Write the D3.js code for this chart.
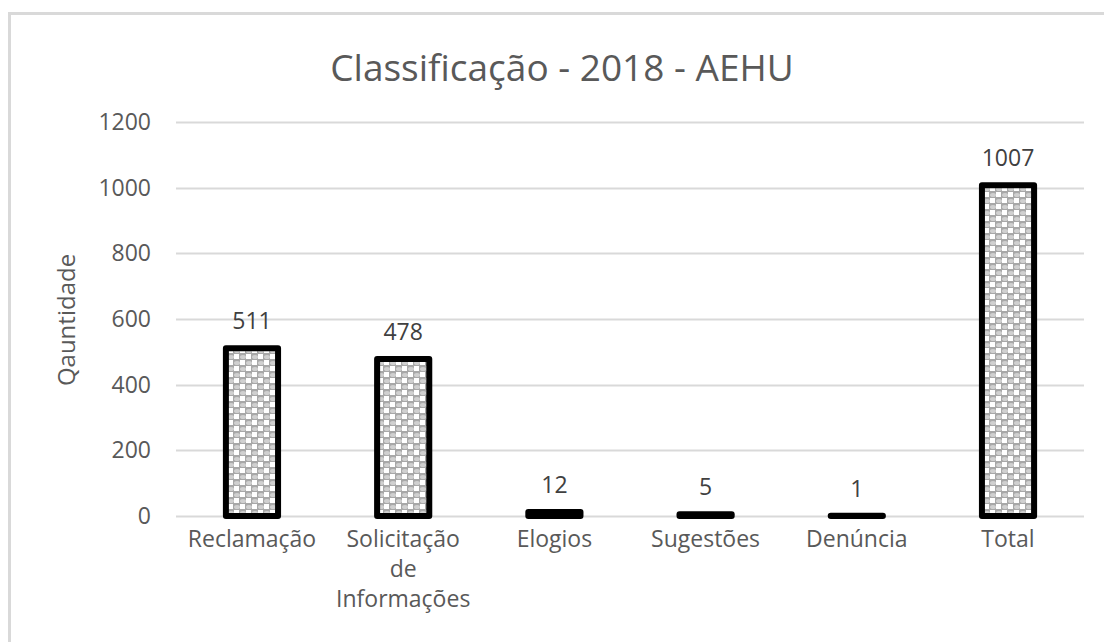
<!DOCTYPE html>
<html>
<head>
<meta charset="utf-8">
<script src="https://cdn.jsdelivr.net/npm/d3@7"></script>
<style>
  body { margin: 0; background: #fff; }
  svg { display: block; font-family: "Open Sans", sans-serif; }
</style>
</head>
<body>
<svg id="chart" width="1104" height="642"></svg>
<script>
// chart data
const categories = ["Reclamação", "Solicitação de Informações", "Elogios", "Sugestões", "Denúncia", "Total"];
const categoryLines = [["Reclamação"], ["Solicitação", "de", "Informações"], ["Elogios"], ["Sugestões"], ["Denúncia"], ["Total"]];
const values = [511, 478, 12, 5, 1, 1007];
const yTicks = [0, 200, 400, 600, 800, 1000, 1200];

const svg = d3.select('#chart');
const textColor = '#595959';
const gridColor = '#d9d9d9';
const labelSize = '23px';

// outer chart border (cut by the window on right/bottom)
svg.append('rect')
    .attr('x', 9.5).attr('y', 13.5)
    .attr('width', 1110).attr('height', 650)
    .attr('fill', '#fff')
    .attr('stroke', gridColor)
    .attr('stroke-width', 3);

const defs = svg.append('defs');
const pat = defs.append('pattern')
    .attr('id', 'dots')
    .attr('patternUnits', 'userSpaceOnUse')
    .attr('width', 12).attr('height', 12);
pat.append('rect').attr('width', 12).attr('height', 12).attr('fill', '#a8a8a8');
pat.append('rect').attr('x', 0).attr('y', 0).attr('width', 5).attr('height', 5).attr('fill', '#fff');
pat.append('rect').attr('x', 6).attr('y', 6).attr('width', 5).attr('height', 5).attr('fill', '#fff');
pat.append('ellipse').attr('cx', 9).attr('cy', 3).attr('rx', 3).attr('ry', 2).attr('fill', '#d0d0d0');
pat.append('ellipse').attr('cx', 3).attr('cy', 9).attr('rx', 3).attr('ry', 2).attr('fill', '#d0d0d0');

const margin = { left: 176, right: 20 };
const width = 1104;

const x = d3.scaleBand()
    .domain(categories)
    .range([margin.left, width - margin.right])
    .paddingInner(0.655)
    .paddingOuter(0.33);

const y = d3.scaleLinear()
    .domain([0, 1200])
    .range([516, 122]);

// gridlines
svg.append('g')
    .selectAll('line')
    .data(yTicks)
    .join('line')
    .attr('x1', margin.left).attr('x2', 1084)
    .attr('y1', d => Math.round(y(d)) + 0.5).attr('y2', d => Math.round(y(d)) + 0.5)
    .attr('stroke', gridColor)
    .attr('stroke-width', 2);

// y tick labels
const yAxis = d3.axisLeft(y).tickValues(yTicks).tickFormat(d3.format('d')).tickSize(0).tickPadding(0);
const yg = svg.append('g')
    .attr('transform', 'translate(151,0)')
    .call(yAxis);
yg.select('.domain').remove();
yg.selectAll('text')
    .attr('fill', textColor)
    .style('font-size', labelSize)
    .style('font-family', '"Open Sans", sans-serif');

// bars
svg.append('g')
    .selectAll('rect')
    .data(values)
    .join('rect')
    .attr('x', (d, i) => x(categories[i]))
    .attr('width', x.bandwidth())
    .attr('y', d => y(d))
    .attr('height', d => y(0) - y(d))
    .attr('fill', 'url(#dots)')
    .attr('stroke', '#000')
    .attr('stroke-width', 6)
    .attr('stroke-linejoin', 'round');

// value labels
svg.append('g')
    .selectAll('text')
    .data(values)
    .join('text')
    .attr('x', (d, i) => x(categories[i]) + x.bandwidth() / 2)
    .attr('y', d => y(d) - 19)
    .attr('text-anchor', 'middle')
    .attr('fill', '#404040')
    .style('font-size', labelSize)
    .text(d => d);

// category labels
const xl = svg.append('g')
    .selectAll('text')
    .data(categoryLines)
    .join('text')
    .attr('x', (d, i) => x(categories[i]) + x.bandwidth() / 2)
    .attr('y', 547)
    .attr('text-anchor', 'middle')
    .attr('fill', textColor)
    .style('font-size', labelSize);
xl.each(function (lines) {
    const t = d3.select(this);
    lines.forEach((l, j) => {
        t.append('tspan')
            .attr('x', t.attr('x'))
            .attr('dy', j === 0 ? 0 : 30)
            .text(l);
    });
});

// axis title
svg.append('text')
    .attr('transform', 'translate(75,320) rotate(-90)')
    .attr('text-anchor', 'middle')
    .attr('fill', textColor)
    .style('font-size', '24px')
    .text('Qauntidade');

// chart title
svg.append('text')
    .attr('x', 562)
    .attr('y', 81)
    .attr('text-anchor', 'middle')
    .attr('fill', textColor)
    .style('font-size', '37px')
    .text('Classificação - 2018 - AEHU');
</script>
</body>
</html>
